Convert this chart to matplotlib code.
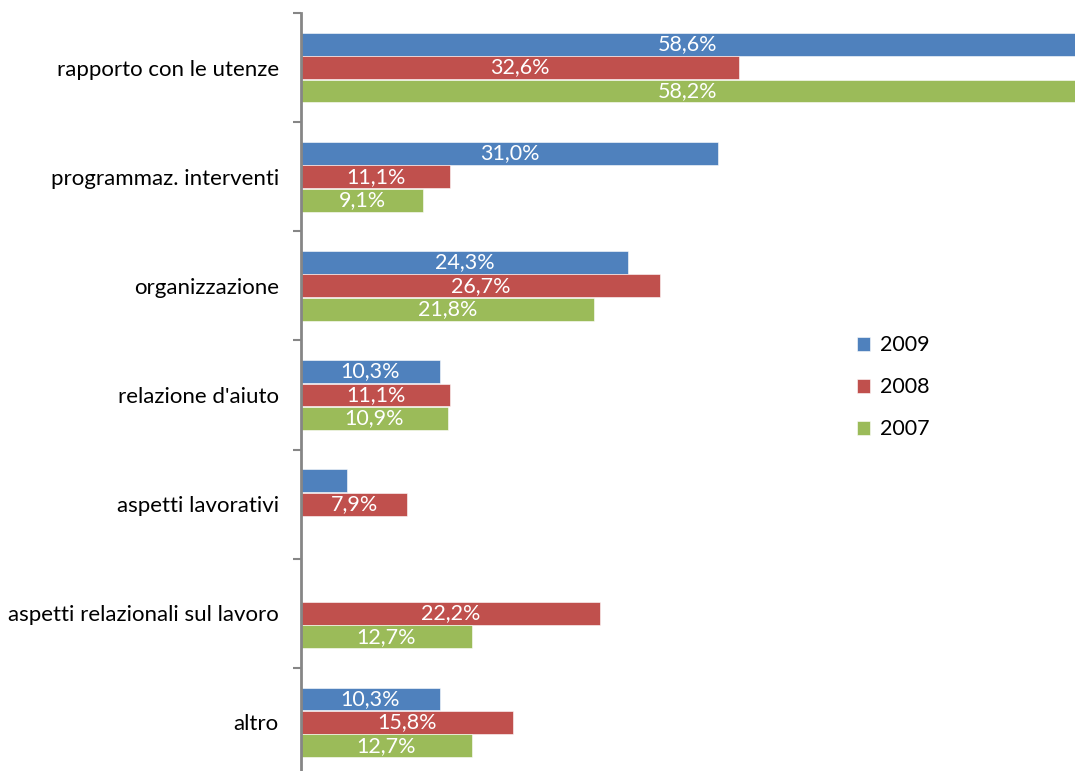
import matplotlib
matplotlib.use("Agg")
import matplotlib.pyplot as plt
import numpy as np

plt.rcParams["font.family"] = ["Lato", "DejaVu Sans"]

categories = [
    "rapporto con le utenze",
    "programmaz. interventi",
    "organizzazione",
    "relazione d'aiuto",
    "aspetti lavorativi",
    "aspetti relazionali sul lavoro",
    "altro",
]
years = ["2009", "2008", "2007"]
values_2009 = [58.6, 31.0, 24.3, 10.3, 3.4, 0.0, 10.3]
values_2008 = [32.6, 11.1, 26.7, 11.1, 7.9, 22.2, 15.8]
values_2007 = [58.2, 9.1, 21.8, 10.9, 0.0, 12.7, 12.7]
colors = ["#4F81BD", "#C0504D", "#9BBB59"]

x_max = 57.55
offsets = [-0.215, 0.0, 0.215]
bar_h = 0.21

fig = plt.figure(figsize=(10.75, 7.71), dpi=100)
ax = fig.add_axes([301 / 1075, -6 / 771, 1 - 301 / 1075, 764 / 771])

y = np.arange(len(categories))
series = [values_2009, values_2008, values_2007]
for vals, col, off, name in zip(series, colors, offsets, years):
    ax.barh(y + off, vals, height=bar_h, color=col, edgecolor="white",
            linewidth=0.4, label=name)
    for yi, v in zip(y, vals):
        if v < 5:
            continue
        txt = "{:.1f}%".format(v).replace(".", ",")
        ax.text(min(v, x_max) / 2, yi + off, txt, color="white",
                ha="center", va="center", fontsize=15.5)

ax.set_xlim(0, x_max)
ax.set_ylim(len(categories) - 0.5, -0.5)
ax.set_yticks(y)
ax.set_yticklabels(categories, fontsize=16)
ax.tick_params(axis="y", which="major", length=0, pad=16)
ax.set_yticks(np.arange(-0.5, len(categories)), minor=True)
ax.tick_params(axis="y", which="minor", length=6, width=1.5, color="#868686")
ax.set_xticks([])
for s in ["top", "right", "bottom"]:
    ax.spines[s].set_visible(False)
ax.spines["left"].set_color("#868686")
ax.spines["left"].set_linewidth(2)

leg = ax.legend(loc="upper left", bbox_to_anchor=(537 / 774, 1 - 303 / 764),
                frameon=False, fontsize=15.5, handlelength=0.6, handleheight=0.6,
                labelspacing=1.02, handletextpad=0.45)

fig.savefig("out.png", dpi=100)
